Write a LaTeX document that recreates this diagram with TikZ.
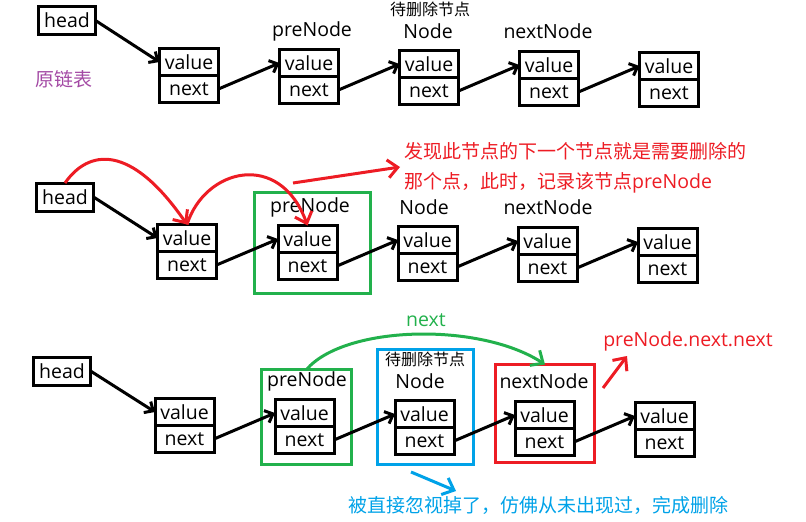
\documentclass[tikz,border=0pt]{standalone}
\usepackage{fontspec}
\setmainfont{Open Sans}
\newfontfamily\cjk{Noto Sans CJK SC}
\usetikzlibrary{positioning,arrows.meta}

\definecolor{pgreen}{HTML}{22B14C}
\definecolor{pred}{HTML}{ED1C24}
\definecolor{pblue}{HTML}{00A2E8}
\definecolor{ppurple}{HTML}{A349A4}

\tikzset{
  cell/.style={draw, line width=3pt, minimum width=59pt, minimum height=27pt,
    inner sep=0pt, outer sep=0pt, font=\fontsize{19.5}{22}\selectfont},
  headbox/.style={cell, minimum width=57pt, minimum height=28pt},
  lbl/.style={inner sep=0pt, font=\fontsize{19.5}{22}\selectfont},
  small/.style={inner sep=0pt, font=\fontsize{16}{18}\selectfont\cjk},
  link/.style={line width=3pt, -{Straight Barb[length=7pt,width=13pt]}},
  mark link/.style={line width=3pt, -{Straight Barb[length=10pt,width=18pt]}},
  frame/.style={draw, line width=3pt, inner sep=0pt, outer sep=0pt},
}

\begin{document}
\begin{tikzpicture}[x=1pt,y=-1pt]
\useasboundingbox (0,0) rectangle (806,522);

%%%%%%%%%%%%%%%%%%%%%%%%%%%% row 1 %%%%%%%%%%%%%%%%%%%%
\node[headbox] (head1) at (67,20.5) {head};
\node[lbl, text=ppurple, font=\fontsize{19}{22}\selectfont\cjk] (orig) at (64,79) {原链表};

\node[cell] (v11) at (189,62) {value}; \node[cell, below=0pt of v11] (n11) {next};
\node[cell] (v12) at (309,63) {value}; \node[cell, below=0pt of v12] (n12) {next};
\node[cell] (v13) at (429,64) {value}; \node[cell, below=0pt of v13] (n13) {next};
\node[cell] (v14) at (549,65) {value}; \node[cell, below=0pt of v14] (n14) {next};
\node[cell] (v15) at (669,66) {value}; \node[cell, below=0pt of v15] (n15) {next};

\node[lbl] (pre1) at (312,31) {preNode};
\node[small] (del1) at (430,9) {待删除节点};
\node[lbl] (node1) at (428,31) {Node};
\node[lbl] (nxt1) at (548,31) {nextNode};

\draw[link] (head1.east) -- (v11.west);
\draw[link] (n11.east) -- (v12.west); \draw[link] (n12.east) -- (v13.west);
\draw[link] (n13.east) -- (v14.west); \draw[link] (n14.east) -- (v15.west);

%%%%%%%%%%%%%%%%%%%%%%%%%%%% row 2 %%%%%%%%%%%%%%%%%%%%
\node[headbox] (head2) at (65,197) {head};

\node[cell] (v21) at (187,238) {value}; \node[cell, below=0pt of v21] (n21) {next};
\node[cell] (v22) at (307.5,239) {value}; \node[cell, below=0pt of v22] (n22) {next};
\node[cell] (v23) at (427.5,240) {value}; \node[cell, below=0pt of v23] (n23) {next};
\node[cell] (v24) at (547.5,241) {value}; \node[cell, below=0pt of v24] (n24) {next};
\node[cell] (v25) at (667.5,242) {value}; \node[cell, below=0pt of v25] (n25) {next};

\node[lbl] (pre2) at (310,207) {preNode};
\node[lbl] (node2) at (424,207) {Node};
\node[lbl] (nxt2) at (548,207) {nextNode};

\node[frame, draw=pgreen, minimum width=116pt, minimum height=101pt] (grn2) at (312.5,243) {};

\draw[link] (head2.east) -- (v21.west);
\draw[link] (n21.east) -- (v22.west); \draw[link] (n22.east) -- (v23.west);
\draw[link] (n23.east) -- (v24.west); \draw[link] (n24.east) -- (v25.west);

{\color{pred}
\draw[mark link] (head2.north) .. controls (88,150) and (130,142) .. (v21.north);
\draw[mark link] (v21.north) .. controls (205,168) and (280,150) .. (v22.north);
\coordinate (redA) at (293,183); \coordinate (redB) at (400,167);
\draw[mark link] (redA) -- (redB);
\node[lbl, anchor=west, font=\fontsize{19}{22}\selectfont\cjk] (note1) at (404,151) {发现此节点的下一个节点就是需要删除的};
\node[lbl, anchor=west] (note2) at (404,183) {{\cjk\fontsize{19}{22}\selectfont 那个点，此时，记录该节点}preNode};
}

%%%%%%%%%%%%%%%%%%%%%%%%%%%% row 3 %%%%%%%%%%%%%%%%%%%%
\node[headbox] (head3) at (62,371) {head};

\node[cell] (v31) at (184.5,412) {value}; \node[cell, below=0pt of v31] (n31) {next};
\node[cell] (v32) at (304.5,413) {value}; \node[cell, below=0pt of v32] (n32) {next};
\node[cell] (v33) at (424.5,414) {value}; \node[cell, below=0pt of v33] (n33) {next};
\node[cell] (v34) at (544.5,415) {value}; \node[cell, below=0pt of v34] (n34) {next};
\node[cell] (v35) at (664.5,416) {value}; \node[cell, below=0pt of v35] (n35) {next};

\node[lbl] (pre3) at (307,381) {preNode};
\node[small] (del3) at (425,359) {待删除节点};
\node[lbl] (node3) at (420,381) {Node};
\node[lbl] (nxt3) at (544,381) {nextNode};

\node[frame, draw=pgreen, minimum width=90pt, minimum height=95pt] (grn3) at (306.5,417) {};
\node[frame, draw=pblue, minimum width=96pt, minimum height=115pt] (blu3) at (425.5,407) {};
\node[frame, draw=pred, minimum width=99pt, minimum height=98pt] (red3) at (545,413.5) {};

\draw[link] (head3.east) -- (v31.west);
\draw[link] (n31.east) -- (v32.west); \draw[link] (n32.east) -- (v33.west);
\draw[link] (n33.east) -- (v34.west); \draw[link] (n34.east) -- (v35.west);

{\color{pgreen}
\draw[mark link] (grn3.north) .. controls (345,325) and (480,322) .. (red3.north);
\node[lbl] (skip) at (426,320) {next};
}

{\color{pred}
\coordinate (redC) at (603,388); \coordinate (redD) at (627,356);
\draw[mark link] (redC) -- (redD);
\node[lbl] (nn) at (688,341) {preNode.next.next};
}

{\color{pblue}
\coordinate (bluA) at (411,472); \coordinate (bluB) at (456,491);
\draw[mark link] (bluA) -- (bluB);
\node[lbl, font=\fontsize{19}{22}\selectfont\cjk] (gone) at (538.5,505) {被直接忽视掉了，仿佛从未出现过，完成删除};
}

\end{tikzpicture}
\end{document}
